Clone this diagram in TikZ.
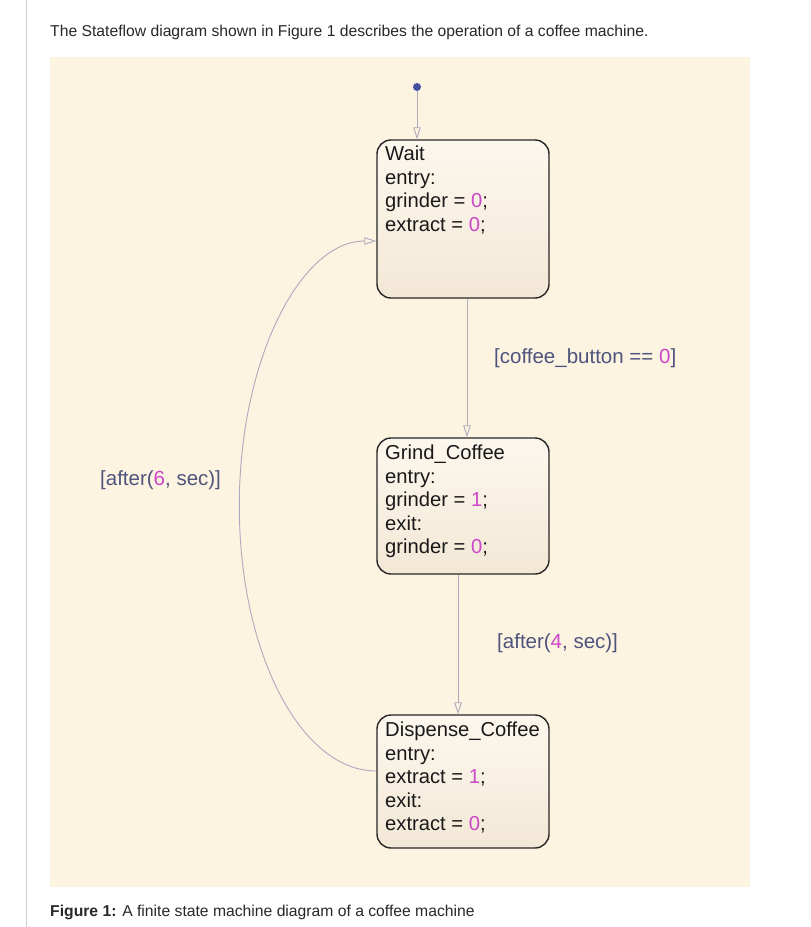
\documentclass[tikz,border=0pt]{standalone}
\usepackage{fontspec}
\setmainfont{Liberation Sans}
\usetikzlibrary{arrows.meta,calc}
\definecolor{panel}{RGB}{253,243,225}
\definecolor{boxtop}{RGB}{252,247,238}
\definecolor{boxbot}{RGB}{243,232,214}
\definecolor{trans}{RGB}{172,170,188}
\definecolor{labcol}{RGB}{78,84,124}
\definecolor{numcol}{RGB}{205,70,200}
\definecolor{dotcol}{RGB}{68,80,160}
\definecolor{bodytext}{RGB}{40,40,40}
\definecolor{rulecol}{RGB}{205,205,205}
\newcommand{\nm}[1]{\textcolor{numcol}{#1}}
\tikzset{
  statebox/.style={draw=black!85, line width=1.4pt, rounded corners=14pt,
    top color=boxtop, bottom color=boxbot, minimum width=172pt, inner sep=0pt},
  statetext/.style={anchor=north west, align=left, inner sep=0pt,
    font=\fontsize{20.2}{23.5}\selectfont, text=black!90},
  tr/.style={draw=trans, line width=0.9pt, -{Triangle[open, length=12pt, width=7.5pt]}},
  guard/.style={anchor=west, inner sep=0pt, font=\fontsize{20.5}{23.5}\selectfont, text=labcol},
  bodyfont/.style={inner sep=0pt, font=\fontsize{15.7}{18}\selectfont, text=bodytext}
}
\begin{document}
\begin{tikzpicture}[x=1pt,y=1pt]
\useasboundingbox (0,0) rectangle (811,-927);
\fill[white] (0,0) rectangle (811,-927);
\draw[rulecol, line width=1pt] (26,0) -- (26,-927);
\node[bodyfont, anchor=base west] (intro) at (50,-36) {The Stateflow diagram shown in Figure 1 describes the operation of a coffee machine.};
\fill[panel] (50,-57) rectangle (750,-887);
% states
\node[statebox, minimum height=158pt] (wait) at (463,-219) {};
\node[statebox, minimum height=136pt] (grind) at (463,-506) {};
\node[statebox, minimum height=133pt] (disp) at (463,-781.5) {};
\node[statetext] (waitT) at (385,-146) {Wait\\entry:\\grinder = \nm{0};\\extract = \nm{0};};
\node[statetext] (grindT) at (385,-445) {Grind\_Coffee\\entry:\\grinder = \nm{1};\\exit:\\grinder = \nm{0};};
\node[statetext] (dispT) at (385,-722) {Dispense\_Coffee\\entry:\\extract = \nm{1};\\exit:\\extract = \nm{0};};
% default transition
\node[circle, fill=dotcol, inner sep=0pt, minimum size=8pt] (init) at (417,-87) {};
\draw[tr] (init) -- (wait.north -| init);
% transitions
\coordinate (xa) at (467,0);
\coordinate (xb) at (458,0);
\draw[tr] (wait.south -| xa) -- (grind.north -| xa);
\draw[tr] (grind.south -| xb) -- (disp.north -| xb);
\coordinate (dl) at (disp.west |- 0,-771);
\draw[tr] (dl) arc[start angle=270, end angle=90, x radius=137pt, y radius=265pt];
% guards
\node[guard] (g1) at (494,-358) {[coffee\_button == \nm{0}]};
\node[guard] (g2) at (497,-643) {[after(\nm{4}, sec)]};
\node[guard] (g3) at (100,-480) {[after(\nm{6}, sec)]};
% caption
\node[bodyfont, anchor=base west] (cap) at (50,-916) {\textbf{Figure 1:} A finite state machine diagram of a coffee machine};
\end{tikzpicture}
\end{document}
